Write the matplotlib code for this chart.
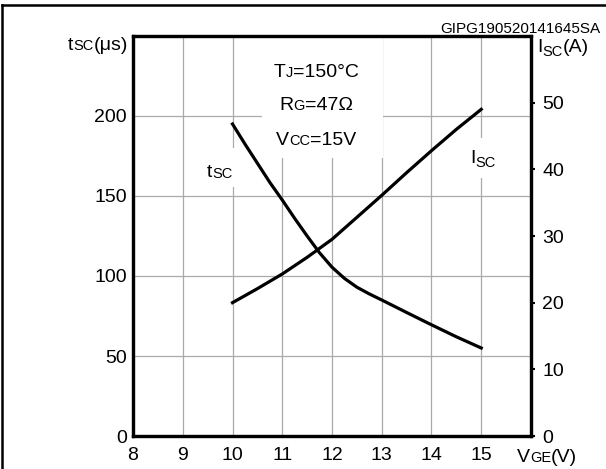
import matplotlib
matplotlib.use("Agg")
import matplotlib.pyplot as plt
import matplotlib.transforms as mtransforms
from matplotlib.patches import Rectangle
from matplotlib.lines import Line2D

plt.rcParams['font.family'] = ['Liberation Sans', 'DejaVu Sans']

# data
vge = [10, 10.25, 10.5, 10.75, 11, 11.25, 11.5, 11.75, 12, 12.25, 12.5, 12.75, 13, 13.5, 14, 14.5, 15]
tsc = [195, 182.5, 170.5, 158.5, 147.5, 136, 125, 114.5, 105.5, 98.5, 93, 88.8, 85, 77.2, 69.5, 62, 55]
vge_isc = [10, 10.5, 11, 11.5, 12, 12.5, 13, 13.5, 14, 14.5, 15]
isc = [20, 22.1, 24.3, 26.8, 29.5, 32.8, 36.1, 39.5, 42.8, 46, 49]

x_ticks = [8, 9, 10, 11, 12, 13, 14, 15]
tsc_ticks = [0, 50, 100, 150, 200]
isc_ticks = [0, 10, 20, 30, 40, 50]

W, H = 606, 469
fig = plt.figure(figsize=(W / 100, H / 100), dpi=100)
ax = fig.add_axes([133 / W, 33 / H, 398 / W, 400 / H])
ax2 = ax.twinx()

ax.set_xlim(8, 16)
ax.set_ylim(0, 250)
ax2.set_ylim(0, 60)

ax.set_xticks(x_ticks)
ax.set_yticks(tsc_ticks)
ax2.set_yticks(isc_ticks)
ax.tick_params(axis='both', length=0, labelsize=14)
ax.tick_params(axis='x', pad=8)
ax.tick_params(axis='y', pad=4.5)
ax2.tick_params(axis='y', length=3, width=1.5, pad=5, labelsize=14)

ax.set_axisbelow(True)
ax.grid(True, color='#aaaaaa', lw=0.9)
for a in (ax, ax2):
    for s in a.spines.values():
        s.set_linewidth(2.3)

# white boxes that cut the grid behind the texts
ax.add_patch(Rectangle((10.59, 173.5), 2.44, 80, fc='white', ec='none', zorder=1))
ax.add_patch(Rectangle((9.45, 155.5), 0.7, 24.5, fc='white', ec='none', zorder=1))
ax.add_patch(Rectangle((14.72, 161), 0.6, 25, fc='white', ec='none', zorder=1))

ax.plot(vge, tsc, color='black', lw=2.3, zorder=3, solid_joinstyle='round')
ax2.plot(vge_isc, isc, color='black', lw=2.3, zorder=3, solid_joinstyle='round')

renderer = fig.canvas.get_renderer()


def rich(x, y, parts, trans, ha='left'):
    # parts: (text, size, baseline shift in points)
    pieces = []
    dx = 0
    for s, size, dy in parts:
        t = fig.text(0, 0, s, size=size, va='baseline', ha='left', zorder=5)
        w = t.get_window_extent(renderer).width
        pieces.append((t, dx, dy))
        dx += w
    shift = {'left': 0, 'center': -dx / 2, 'right': -dx}[ha]
    for t, ox, dy in pieces:
        t.set_transform(mtransforms.offset_copy(trans, fig=fig, x=(ox + shift) * 72 / fig.dpi,
                                                y=dy, units='points'))
        t.set_position((x, y))


big, small = 14, 10.5
rich(11.68, 224.5, [("T", big, 0), ("J", small, 0), ("=150°C", big, 0)], ax.transData, 'center')
rich(11.68, 203.8, [("R", big, 0), ("G", small, 0), ("=47Ω", big, 0)], ax.transData, 'center')
rich(11.68, 181.9, [("V", big, 0), ("CC", small, 0), ("=15V", big, 0)], ax.transData, 'center')
rich(9.49, 162, [("t", big, 0), ("SC", small, -1)], ax.transData)
rich(14.77, 170.6, [("I", big, 0), ("SC", small, -3)], ax.transData)

rich(128 / W, 1 - 50 / H, [("t", big, 0), ("SC", small, 0), ("(μs)", big, 0)], fig.transFigure, 'right')
rich(537 / W, 1 - 52 / H, [("I", big, 0), ("SC", small, -3), ("(A)", big, 0)], fig.transFigure)
rich(517 / W, 1 - 462 / H, [("V", big, 0), ("GE", small, 0), ("(V)", big, 0)], fig.transFigure)

fig.text(600 / W, 1 - 29 / H, "GIPG190520141645SA", size=11, ha='right', va='center')

# frame lines at the top and left of the picture
fig.add_artist(Line2D([1.5 / W, 1], [1 - 5 / H, 1 - 5 / H], color='black', lw=1.8))
fig.add_artist(Line2D([1.5 / W, 1.5 / W], [0, 1 - 5 / H], color='black', lw=1.8))

fig.savefig("out.png", dpi=100)
